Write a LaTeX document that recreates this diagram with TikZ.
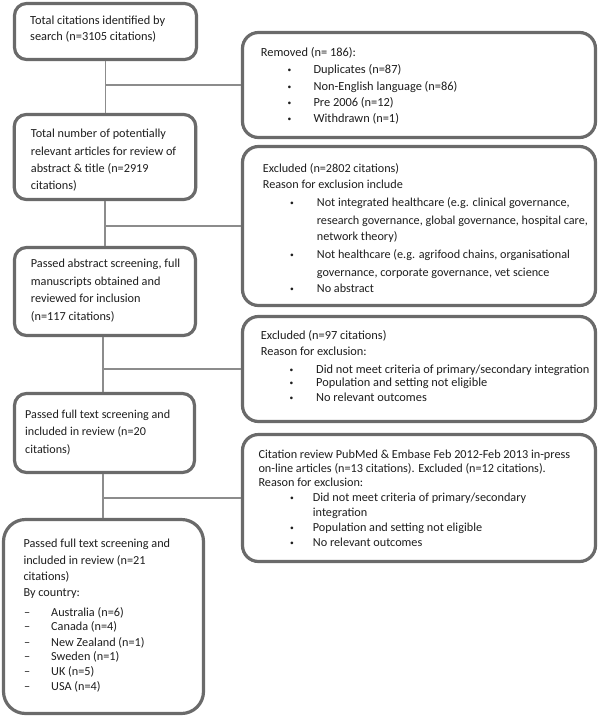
\documentclass[tikz,border=0pt]{standalone}
\usepackage{fontspec}
\setmainfont{Carlito}
\definecolor{boxgray}{HTML}{6A6A6A}
\definecolor{linegray}{HTML}{8C8C8C}
\definecolor{textcol}{HTML}{1E1E1E}
\newcommand\bul{{\fontsize{7.5}{7.5}\selectfont\raisebox{1pt}{•}}}
\newlength\fitlen
\newcommand\fitfont[3]{\settowidth{\fitlen}{\fontsize{10}{10}\selectfont #3}\pgfmathsetmacro#1{10*#2/\fitlen}}
\tikzset{
  box/.style={draw=boxgray, line width=3.2pt, rounded corners=12pt, inner sep=0pt, fill=white},
  bigbox/.style={box, rounded corners=16pt},
  conn/.style={draw=linegray, line width=1.5pt},
  txt/.style={anchor=base west, inner sep=0pt, font=\fontsize{#1}{#1}\selectfont, text=textcol},
}
\begin{document}
\fitfont\fsA{135}{Total citations identified by}
\fitfont\fsB{144}{Non-English language (n=86)}
\fitfont\fsC{145.3}{relevant articles for review of}
\fitfont\fsD{271}{research governance, global governance, hospital care,}
\fitfont\fsE{149.3}{Passed abstract screening, full}
\fitfont\fsF{273.3}{Did not meet criteria of primary/secondary integration}
\fitfont\fsG{145}{Passed full text screening and}
\fitfont\fsH{311.7}{Citation review PubMed \& Embase Feb 2012-Feb 2013 in-press}
\fitfont\fsI{146.7}{Passed full text screening and}%
\begin{tikzpicture}[x=1pt, y=-1pt]
\useasboundingbox (0,0) rectangle (600,716);
% boxes
\node[box, minimum width=182pt, minimum height=56pt] (b1) at (105.5,31.5) {};
\node[bigbox, minimum width=353pt, minimum height=105pt] (b2) at (419,85) {};
\node[box, minimum width=181.5pt, minimum height=85pt] (b3) at (105,157) {};
\node[bigbox, minimum width=353pt, minimum height=159pt] (b4) at (419,226) {};
\node[box, minimum width=181pt, minimum height=88pt] (b5) at (105,291.5) {};
\node[bigbox, minimum width=353pt, minimum height=105pt] (b6) at (419,369) {};
\node[box, minimum width=180pt, minimum height=79pt] (b7) at (104.5,433) {};
\node[bigbox, minimum width=353pt, minimum height=127pt] (b8) at (419,498) {};
\node[box, rounded corners=22pt, minimum width=200pt, minimum height=194pt] (b9) at (103.5,616.5) {};
% connectors
\coordinate (j1) at (b1.south);
\coordinate (j2) at (b3.south);
\coordinate (j3) at ([xshift=-2pt]b5.south);
\coordinate (j4) at ([xshift=-1.5pt]b7.south);
\draw[conn] (j1) -- (j1 |- b3.north);
\draw[conn] (b2.west) -- (b2.west -| j1);
\draw[conn] (j2) -- (j2 |- b5.north);
\draw[conn] (b4.west) -- (b4.west -| j2);
\draw[conn] (j3) -- (j3 |- b7.north);
\draw[conn] (b6.west) -- (b6.west -| j3);
\draw[conn] (j4) -- (j4 |- b9.north);
\draw[conn] (b8.west) -- (b8.west -| j4);
% texts
\foreach \px/\py/\tx [count=\i] in {
  30/24/{Total citations identified by},
  30/40.7/{search (n=3105 citations)}}
  \node[txt=\fsA] (ta-\i) at (\px,\py) {\tx};
\foreach \px/\py/\tx [count=\i] in {
  260.7/56.7/{Removed (n= 186):},
  287.3/73.3/{\bul}, 313.3/73.3/{Duplicates (n=87)},
  287.3/90/{\bul}, 313.3/90/{Non-English language (n=86)},
  287.3/106.3/{\bul}, 313.3/106.3/{Pre 2006 (n=12)},
  287.3/122.7/{\bul}, 313.3/122.7/{Withdrawn (n=1)}}
  \node[txt=\fsB] (tb-\i) at (\px,\py) {\tx};
\foreach \px/\py/\tx [count=\i] in {
  30.7/137.3/{Total number of potentially},
  30.7/155/{relevant articles for review of},
  30.7/172.7/{abstract \& title (n=2919},
  30.7/189.3/{citations)}}
  \node[txt=\fsC] (tc-\i) at (\px,\py) {\tx};
\foreach \px/\py/\tx [count=\i] in {
  262.7/172.7/{Excluded (n=2802 citations)},
  262.7/188.3/{Reason for exclusion include},
  290/206.7/{\bul}, 316.7/206.7/{Not integrated healthcare (e.g. clinical governance,},
  316.7/224/{research governance, global governance, hospital care,},
  316.7/240.7/{network theory)},
  290/258.3/{\bul}, 316.7/258.3/{Not healthcare (e.g. agrifood chains, organisational},
  316.7/276/{governance, corporate governance, vet science},
  290/292.7/{\bul}, 316.7/292.7/{No abstract}}
  \node[txt=\fsD] (td-\i) at (\px,\py) {\tx};
\foreach \px/\py/\tx [count=\i] in {
  30.7/267.3/{Passed abstract screening, full},
  30.7/285/{manuscripts obtained and},
  30.7/302.7/{reviewed for inclusion},
  30.7/320/{(n=117 citations)}}
  \node[txt=\fsE] (te-\i) at (\px,\py) {\tx};
\foreach \px/\py/\tx [count=\i] in {
  260.7/339.3/{Excluded (n=97 citations)},
  260.7/355/{Reason for exclusion:},
  289.3/373.3/{\bul}, 316/373.3/{Did not meet criteria of primary/secondary integration},
  289.3/386.7/{\bul}, 316/386.7/{Population and setting not eligible},
  289.3/401/{\bul}, 316/401/{No relevant outcomes}}
  \node[txt=\fsF] (tf-\i) at (\px,\py) {\tx};
\foreach \px/\py/\tx [count=\i] in {
  25/418.3/{Passed full text screening and},
  25/435.7/{included in review (n=20},
  25/453.3/{citations)}}
  \node[txt=\fsG] (tg-\i) at (\px,\py) {\tx};
\foreach \px/\py/\tx [count=\i] in {
  258.3/458.3/{Citation review PubMed \& Embase Feb 2012-Feb 2013 in-press},
  258.3/472.3/{on-line articles (n=13 citations). Excluded (n=12 citations).},
  258.3/486.7/{Reason for exclusion:},
  290/501.7/{\bul}, 312.7/501.7/{Did not meet criteria of primary/secondary},
  312.7/516.7/{integration},
  290/531.7/{\bul}, 312.7/531.7/{Population and setting not eligible},
  290/546/{\bul}, 312.7/546/{No relevant outcomes}}
  \node[txt=\fsH] (th-\i) at (\px,\py) {\tx};
\foreach \px/\py/\tx [count=\i] in {
  23.3/547.3/{Passed full text screening and},
  23.3/564.3/{included in review (n=21},
  23.3/580/{citations)},
  23.3/596.7/{By country:},
  24/616/{–}, 51/616/{Australia (n=6)},
  24/630/{–}, 51/630/{Canada (n=4)},
  24/646/{–}, 51/646/{New Zealand (n=1)},
  24/660/{–}, 51/660/{Sweden (n=1)},
  24/675/{–}, 51/675/{UK (n=5)},
  24/690/{–}, 51/690/{USA (n=4)}}
  \node[txt=\fsI] (ti-\i) at (\px,\py) {\tx};
\end{tikzpicture}
\end{document}
